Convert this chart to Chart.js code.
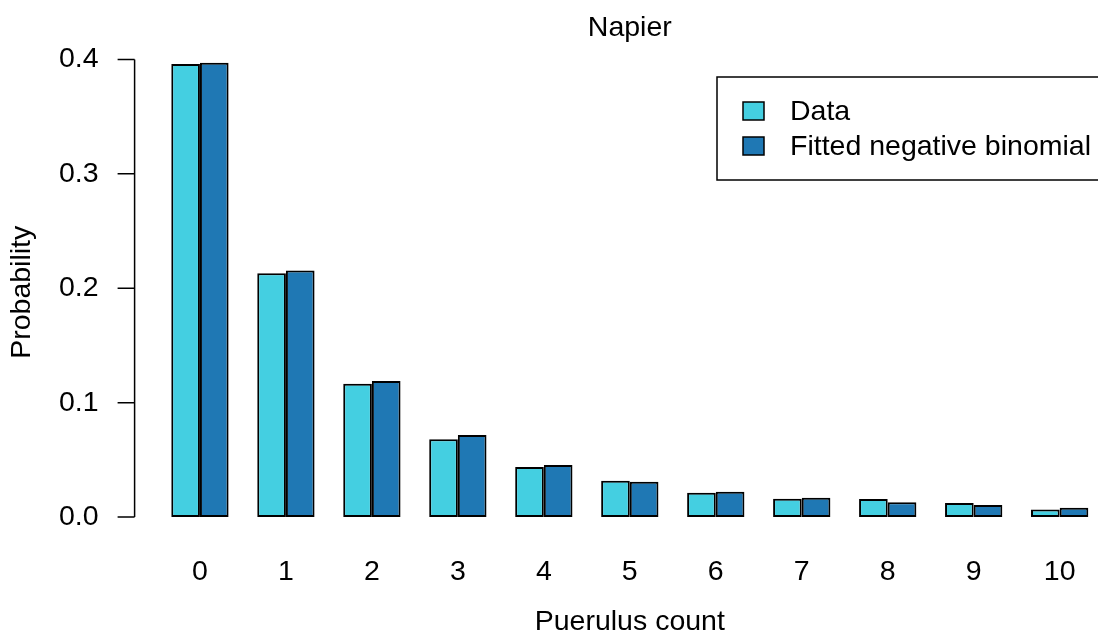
<!DOCTYPE html>
<html>
<head>
    <title>Napier</title>
    <style type="text/css">
        html, body { margin: 0; padding: 0; overflow: hidden; background: #ffffff; }
        #wrap { width: 1098px; height: 637px; overflow: hidden; }
    </style>
    <script src="https://cdn.jsdelivr.net/npm/chart.js@4.4.1/dist/chart.umd.min.js"></script>
</head>
<body>
    <div id="wrap">
        <canvas id="Chart" width="1130" height="637"></canvas>
    </div>
    <script>
        // values
        var counts = [0, 1, 2, 3, 4, 5, 6, 7, 8, 9, 10];
        var dataProb = [0.396, 0.213, 0.1165, 0.068, 0.0438, 0.0318, 0.0213, 0.016, 0.0158, 0.0123, 0.0067];
        var fittedProb = [0.397, 0.2155, 0.119, 0.0718, 0.0455, 0.031, 0.0222, 0.0169, 0.0129, 0.0105, 0.0082];
        var yTicks = [0, 0.1, 0.2, 0.3, 0.4];
        var seriesNames = ['Data', 'Fitted negative binomial'];
        var seriesColors = ['#44cfe1', '#1f78b4'];

        var FONT = "'Liberation Sans', Arial, sans-serif";
        var FS = 28.5;

        // R style y axis (line only spanning the ticks) and boxed legend
        var rDecor = {
            id: 'rDecor',
            afterDraw: function(chart) {
                var ctx = chart.ctx;
                var y = chart.scales.y;
                var area = chart.chartArea;
                var x0 = area.left;
                ctx.save();
                ctx.strokeStyle = '#000';
                ctx.lineWidth = 1.5;
                ctx.beginPath();
                ctx.moveTo(x0, y.getPixelForValue(yTicks[0]));
                ctx.lineTo(x0, y.getPixelForValue(yTicks[yTicks.length - 1]));
                yTicks.forEach(function(v) {
                    var py = y.getPixelForValue(v);
                    ctx.moveTo(x0 - 17, py);
                    ctx.lineTo(x0, py);
                });
                ctx.stroke();

                // legend
                var lx = 717, ly = 77, lb = 180;
                ctx.strokeRect(lx, ly, area.right - lx, lb - ly);
                ctx.font = FS + 'px ' + FONT;
                ctx.textBaseline = 'middle';
                ctx.textAlign = 'left';
                seriesNames.forEach(function(name, i) {
                    var cy = 111 + i * 35;
                    ctx.fillStyle = seriesColors[i];
                    ctx.fillRect(743, cy - 9, 21, 18);
                    ctx.strokeRect(743, cy - 9, 21, 18);
                    ctx.fillStyle = '#000';
                    ctx.fillText(name, 790, cy + 1);
                });
                ctx.restore();
            }
        };

        var ctx = document.getElementById('Chart').getContext('2d');
        var chart = new Chart(ctx, {
            type: 'bar',
            data: {
                datasets: [{
                    label: seriesNames[0],
                    backgroundColor: seriesColors[0],
                    borderColor: '#000',
                    borderWidth: 2,
                    borderSkipped: false,
                    data: counts.map(function(c, i) { return { x: c, y: dataProb[i] }; })
                }, {
                    label: seriesNames[1],
                    backgroundColor: seriesColors[1],
                    borderColor: '#000',
                    borderWidth: 2,
                    borderSkipped: false,
                    data: counts.map(function(c, i) { return { x: c, y: fittedProb[i] }; })
                }]
            },
            options: {
                responsive: false,
                animation: false,
                categoryPercentage: 2 / 3,
                barPercentage: 1,
                layout: { padding: { left: 0, right: 5, top: 0, bottom: 0 } },
                plugins: {
                    legend: { display: false },
                    tooltip: { enabled: false },
                    title: {
                        display: true,
                        text: 'Napier',
                        fullSize: false,
                        color: '#000',
                        font: { family: FONT, size: FS, weight: 'normal', lineHeight: 1 },
                        padding: { top: 14, bottom: 2 }
                    }
                },
                scales: {
                    x: {
                        type: 'linear',
                        offset: false,
                        min: -0.76,
                        max: 10.76,
                        grid: { display: false, drawTicks: false },
                        border: { display: false },
                        afterBuildTicks: function(s) {
                            s.ticks = counts.map(function(c) { return { value: c }; });
                        },
                        afterFit: function(s) {
                            s.height = 97;
                            s.paddingLeft = 0;
                            s.paddingRight = 0;
                        },
                        ticks: {
                            color: '#000',
                            padding: 15,
                            maxRotation: 0,
                            font: { family: FONT, size: FS },
                            callback: function(v) { return String(v); }
                        },
                        title: {
                            display: true,
                            text: 'Puerulus count',
                            color: '#000',
                            font: { family: FONT, size: FS, lineHeight: 1 },
                            padding: { top: 0, bottom: 1 }
                        }
                    },
                    y: {
                        min: -0.02,
                        max: 0.413,
                        grid: { display: false, drawTicks: false },
                        border: { display: false },
                        afterBuildTicks: function(s) {
                            s.ticks = yTicks.map(function(v) { return { value: v }; });
                        },
                        afterFit: function(s) {
                            s.width = 134.6;
                            s.paddingTop = 0;
                            s.paddingBottom = 0;
                        },
                        ticks: {
                            color: '#000',
                            padding: 36,
                            font: { family: FONT, size: FS },
                            callback: function(v) { return Number(v).toFixed(1); }
                        },
                        title: {
                            display: true,
                            text: 'Probability',
                            color: '#000',
                            font: { family: FONT, size: FS, lineHeight: 1 },
                            padding: { top: 8, bottom: 0 }
                        }
                    }
                }
            },
            plugins: [rDecor]
        });
    </script>
</body>
</html>
